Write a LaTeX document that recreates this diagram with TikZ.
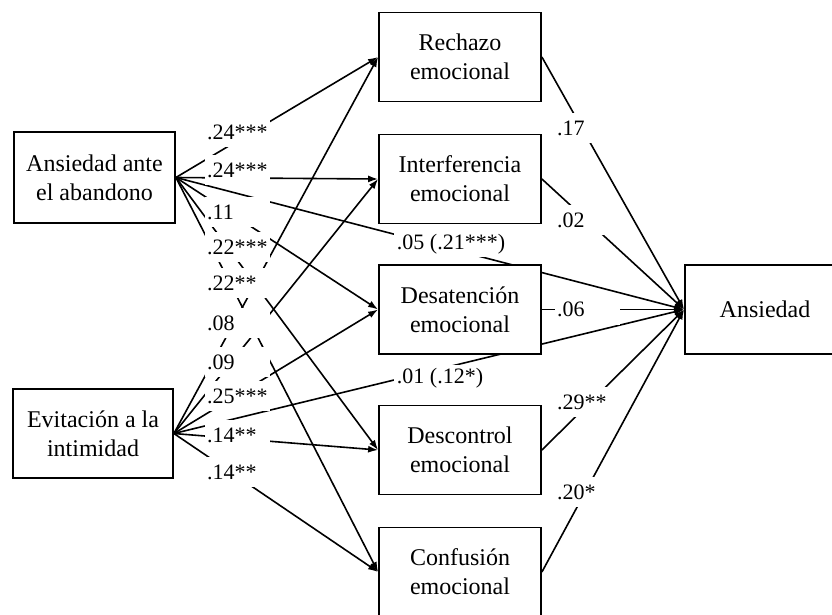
\documentclass[tikz,border=0pt]{standalone}
\usepackage{fontspec}
\setmainfont{Liberation Serif}
\usetikzlibrary{arrows.meta,backgrounds}

\tikzset{
  var/.style={draw, line width=1.8pt, fill=white, minimum width=162pt, minimum height=89pt,
              inner sep=0pt, align=center, font=\fontsize{24}{29}\selectfont},
  coef/.style={fill=white, inner xsep=2pt, inner ysep=0pt, text width=61pt, minimum height=30pt,
               anchor=west, font=\fontsize{22}{26}\selectfont},
  est/.style={fill=white, inner sep=3pt, font=\fontsize{22}{26}\selectfont},
  link/.style={line width=1.6pt, -{Latex[length=10pt,width=7pt]}}
}

\begin{document}
\begin{tikzpicture}[x=1pt,y=-1pt]
                  \useasboundingbox (0,0) rectangle (832,614);

                  % predictores
                  \node[var, minimum width=161pt, minimum height=91pt] (aband) at (94.5,177.5) {Ansiedad ante\\el abandono};
                  \node[var, minimum width=160pt] (evit) at (93,433.5) {Evitación a la\\intimidad};

                  % mediadores
                  \node[var] (rech) at (460,57) {Rechazo\\emocional};
                  \node[var] (inter) at (460,179) {Interferencia\\emocional};
                  \node[var] (desat) at (460,309.5) {Desatención\\emocional};
                  \node[var] (descon) at (460,450) {Descontrol\\emocional};
                  \node[var] (confu) at (460,572) {Confusión\\emocional};

                  % resultado
                  \node[var, minimum width=160pt] (ansie) at (765,309.5) {Ansiedad};

                  \begin{scope}[on background layer]
                  \draw[link] (aband.east) -- (rech.west);
                  \draw[link] (aband.east) -- (inter.west);
                  \draw[link] (aband.east) -- (desat.west);
                  \draw[link] (aband.east) -- (descon.west);
                  \draw[link] (aband.east) -- (confu.west);
                  \draw[link] (aband.east) -- (ansie.west);

                  \draw[link] (evit.east) -- (rech.west);
                  \draw[link] (evit.east) -- (inter.west);
                  \draw[link] (evit.east) -- (desat.west);
                  \draw[link] (evit.east) -- (descon.west);
                  \draw[link] (evit.east) -- (confu.west);
                  \draw[link] (evit.east) -- (ansie.west);

                  \draw[link] (rech.east) -- (ansie.west);
                  \draw[link] (inter.east) -- (ansie.west);
                  \draw[link] (desat.east) -- (ansie.west);
                  \draw[link] (descon.east) -- (ansie.west);
                  \draw[link] (confu.east) -- (ansie.west);
                  \end{scope}

                  % coeficientes
                  \node[coef] (a1) at (205,132) {.24***};
                  \node[coef] (a2) at (205,170) {.24***};
                  \node[coef] (a3) at (205,212) {.11};
                  \node[coef] (a4) at (205,247) {.22***};
                  \node[coef] (a5) at (205,283) {.22**};
                  \node[coef] (e1) at (205,323) {.08};
                  \node[coef] (e2) at (205,362) {.09};
                  \node[coef] (e3) at (205,396) {.25***};
                  \node[coef] (e4) at (205,435) {.14**};
                  \node[coef] (e5) at (205,472) {.14**};

                  \node[est] (da) at (451,244) {.05 (.21***)};
                  \node[est] (de) at (440,378) {.01 (.12*)};

                  \node[coef] (m1) at (555,128) {.17};
                  \node[coef] (m2) at (555,220) {.02};
                  \node[coef] (m3) at (555,309.5) {.06};
                  \node[coef] (m4) at (555,402) {.29**};
                  \node[coef] (m5) at (555,492) {.20*};
              \end{tikzpicture}
\end{document}
